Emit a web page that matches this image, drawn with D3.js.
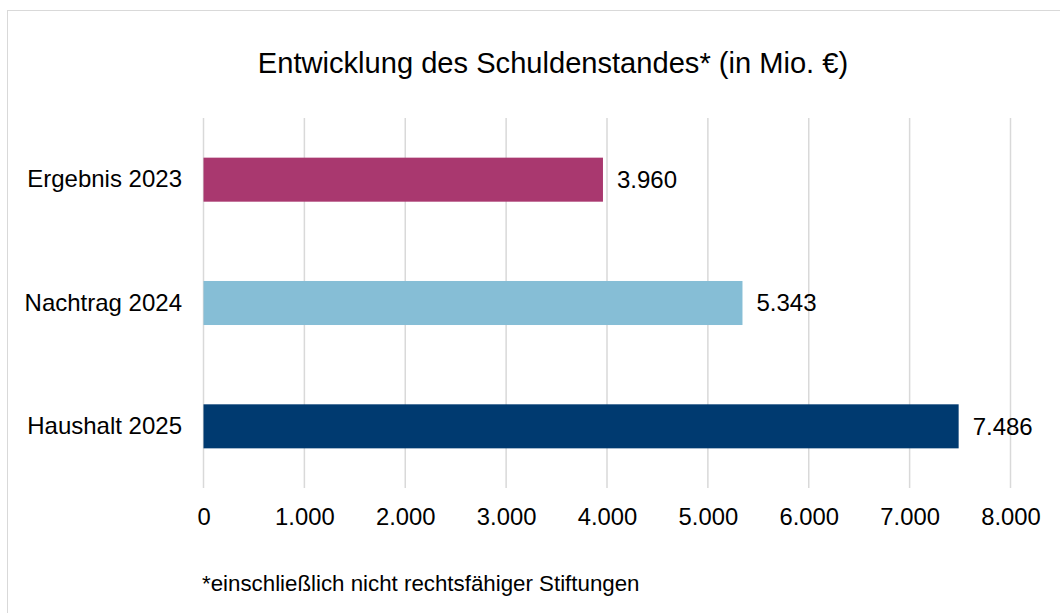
<!DOCTYPE html>
<html><head><meta charset="utf-8">
<script src="https://cdn.jsdelivr.net/npm/d3@7"></script>
<style>body{margin:0;background:#fff}svg{display:block}text{font-family:"Liberation Sans",Arial,sans-serif}</style>
</head><body>
<script>
const categories = ["Ergebnis 2023", "Nachtrag 2024", "Haushalt 2025"];
const values = [3960, 5343, 7486];
const colors = ["#A9386F", "#86BED6", "#003A70"];
const ticks = [0, 1000, 2000, 3000, 4000, 5000, 6000, 7000, 8000];
const title = "Entwicklung des Schuldenstandes* (in Mio. €)";
const footnote = "*einschließlich nicht rechtsfähiger Stiftungen";

const W = 1060, H = 613;
const FONT = '"Liberation Sans",Arial,sans-serif';
const svg = d3.select("body").append("svg").attr("width", W).attr("height", H);
svg.append("rect").attr("x", 7.5).attr("y", 10.5).attr("width", 1070).attr("height", 640)
  .attr("fill", "none").attr("stroke", "#d9d9d9").attr("stroke-width", 1);

const x = d3.scaleLinear().domain([0, 8000]).range([203.5, 1010.5]);
const y = d3.scaleBand().domain(categories).range([118, 488]).paddingInner(0.643).paddingOuter(0.3215);
const fmt = d3.formatLocale({decimal: ",", thousands: ".", grouping: [3], currency: ["", "€"]}).format(",d");

svg.append("text").attr("x", 553).attr("y", 73).attr("text-anchor", "middle")
  .attr("font-size", 29.1).attr("fill", "#000").text(title);

// gridlines
svg.append("g").selectAll("line").data(ticks).join("line")
  .attr("x1", d => x(d)).attr("x2", d => x(d)).attr("y1", 118).attr("y2", 488)
  .attr("stroke", "#d9d9d9").attr("stroke-width", 1.5);

// x axis labels
const xa = svg.append("g").attr("transform", "translate(0,488)")
  .call(d3.axisBottom(x).tickValues(ticks).tickFormat(fmt).tickSize(0).tickPadding(0));
xa.select(".domain").remove();
xa.selectAll("text").attr("dy", null).attr("y", 36.5).attr("font-size", 23.8).attr("fill", "#000").attr("font-family", FONT);

// y axis labels
const ya = svg.append("g").attr("transform", "translate(203,0)")
  .call(d3.axisLeft(y).tickSize(0).tickPadding(21));
ya.select(".domain").remove();
ya.selectAll("text").attr("font-size", 24).attr("fill", "#000").attr("font-family", FONT);

// bars
svg.append("g").selectAll("rect").data(values).join("rect")
  .attr("x", x(0)).attr("y", (d, i) => y(categories[i]))
  .attr("width", d => x(d) - x(0)).attr("height", y.bandwidth())
  .attr("fill", (d, i) => colors[i]);

// value labels
svg.append("g").selectAll("text").data(values).join("text")
  .attr("x", d => x(d) + 14).attr("y", (d, i) => y(categories[i]) + y.bandwidth() / 2)
  .attr("dy", "0.35em").attr("font-size", 24).attr("fill", "#000").text(d => fmt(d));

svg.append("text").attr("x", 202).attr("y", 590.5).attr("font-size", 22.3).attr("fill", "#000").text(footnote);
</script>
</body></html>
